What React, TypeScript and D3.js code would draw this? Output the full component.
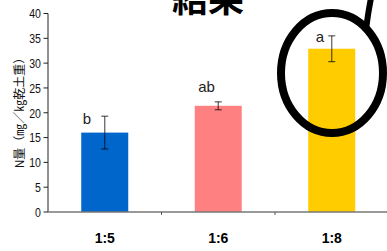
import * as d3 from 'd3';

const categories = ['1:5', '1:6', '1:8'];
const values = [16.0, 21.4, 32.9];
const errors = [3.3, 0.8, 2.6];
const letters = ['b', 'ab', 'a'];
const letterValues = [17.8, 24.1, 34.3];
const barColors = ['#0066CC', '#FF8080', '#FFCC00'];
const yTicks = [0, 5, 10, 15, 20, 25, 30, 35, 40];

const W = 387;
const H = 251;
const margin = { top: 13.5, right: 0, bottom: 39, left: 48 };
// label offsets from bar centre (px)
const letterDx = [-22, -20, -16];

export default function App() {
  const innerH = H - margin.top - margin.bottom;
  const x = d3
    .scaleBand<string>()
    .domain(categories)
    .range([margin.left, margin.left + 340.5])
    .paddingInner(0)
    .paddingOuter(0);
  const y = d3.scaleLinear().domain([0, 40]).range([margin.top + innerH, margin.top]);
  const barW = 47;
  const y0 = y(0);

  const tail = d3.line().curve(d3.curveBasis)([
    [366, 30],
    [368, 14],
    [371, -2],
  ]);

  return (
    <div style={{ position: 'fixed', left: 0, top: 0 }}>
      <svg width={W} height={H} style={{ display: 'block', background: '#fff' }}>
        {/* title, cut off at top */}
        <text
          x={208}
          y={12}
          textAnchor="middle"
          fontFamily="'Noto Sans CJK JP', sans-serif"
          fontWeight="bold"
          fontSize={36}
          fill="#000"
        >
          結果
        </text>

        {/* bars */}
        {categories.map((c, i) => {
          const cx = x(c)! + x.bandwidth() / 2;
          return (
            <rect
              key={c}
              x={cx - barW / 2}
              y={y(values[i])}
              width={barW}
              height={y0 - y(values[i])}
              fill={barColors[i]}
            />
          );
        })}

        {/* error bars */}
        {categories.map((c, i) => {
          const cx = x(c)! + x.bandwidth() / 2;
          const t = y(values[i] + errors[i]);
          const b = y(values[i] - errors[i]);
          return (
            <g key={c} stroke="#000" strokeOpacity={0.65} strokeWidth={1.2}>
              <line x1={cx} x2={cx} y1={t} y2={b} />
              <line x1={cx - 3.5} x2={cx + 3.5} y1={t} y2={t} />
              <line x1={cx - 3.5} x2={cx + 3.5} y1={b} y2={b} />
            </g>
          );
        })}

        {/* significance letters */}
        {categories.map((c, i) => {
          const cx = x(c)! + x.bandwidth() / 2;
          return (
            <text
              key={c}
              x={cx + letterDx[i]}
              y={y(letterValues[i])}
              fontFamily="'Liberation Sans', Arial, sans-serif"
              fontSize={15}
              fill="#222"
            >
              {letters[i]}
            </text>
          );
        })}

        {/* y axis */}
        <line x1={margin.left} x2={margin.left} y1={y(40)} y2={y0} stroke="#222" strokeWidth={1} />
        {yTicks.map((t) => (
          <g key={t}>
            <line x1={margin.left - 4.5} x2={margin.left} y1={y(t)} y2={y(t)} stroke="#222" />
            <text
              x={margin.left - 7}
              y={y(t)}
              dy="0.36em"
              textAnchor="end"
              fontFamily="'Liberation Sans', Arial, sans-serif"
              fontSize={12}
              fill="#111"
              transform={`translate(${margin.left - 7},${y(t)}) scale(0.88,1.12) translate(${-(margin.left - 7)},${-y(t)})`}
            >
              {t}
            </text>
          </g>
        ))}

        {/* x axis */}
        <line x1={margin.left} x2={W} y1={y0} y2={y0} stroke="#777" strokeWidth={1.3} />
        {categories.slice(1).map((c) => (
          <line key={c} x1={x(c)!} x2={x(c)!} y1={y0} y2={y0 + 3} stroke="#555" />
        ))}
        {categories.map((c) => (
          <text
            key={c}
            x={x(c)! + x.bandwidth() / 2}
            y={243}
            textAnchor="middle"
            fontFamily="'Liberation Sans', Arial, sans-serif"
            fontWeight="bold"
            fontSize={14}
            fill="#000"
          >
            {c}
          </text>
        ))}

        {/* y axis title */}
        <text
          transform={`translate(24,110) rotate(-90)`}
          textAnchor="middle"
          fontFamily="'Noto Sans CJK JP', sans-serif"
          fontSize={12}
          fill="#111"
        >
          N量（㎎／㎏乾土重）
        </text>

        {/* hand-drawn highlight */}
        <ellipse cx={332} cy={73} rx={51} ry={60} fill="none" stroke="#000" strokeWidth={8} />
        <path d={tail ?? ''} fill="none" stroke="#000" strokeWidth={6} />
      </svg>
    </div>
  );
}
